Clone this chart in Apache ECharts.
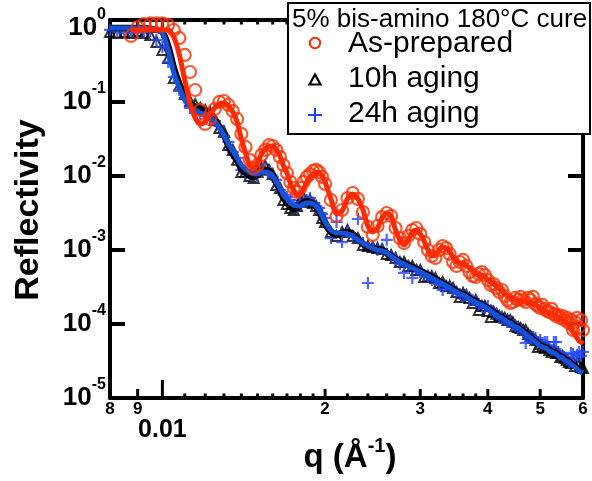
<!DOCTYPE html>
<html><head><meta charset="utf-8">
<script src="https://cdn.jsdelivr.net/npm/echarts@6/dist/echarts.min.js"></script>
<style>html,body{margin:0;padding:0;background:#fff;} #c{width:592px;height:481px;}</style>
</head><body><div id="c"></div>
<script>
// scattering vector q (1/Angstrom)
const q = [0.008,0.00825,0.0085,0.00875,0.009,0.00925,0.0095,0.00975,0.01,0.01025,
0.0105,0.01075,0.011,0.01125,0.0115,0.01175,0.012,0.01225,0.0125,0.01275,
0.013,0.01325,0.0135,0.01375,0.014,0.01425,0.0145,0.01475,0.015,0.01525,
0.0155,0.01575,0.016,0.01625,0.0165,0.01675,0.017,0.01725,0.0175,0.01775,
0.018,0.01825,0.0185,0.01875,0.019,0.01925,0.0195,0.01975,0.02,
0.0205,0.021,0.0215,0.022,0.0225,0.023,0.0235,0.024,0.0245,0.025,0.0255,
0.026,0.0265,0.027,0.0275,0.028,0.0285,0.029,0.0295,0.03,0.0305,
0.031,0.0315,0.032,0.0325,0.033,0.0335,0.034,0.0345,0.035,0.0355,
0.036,0.0365,0.037,0.0375,0.038,0.0385,0.039,0.0395,0.04,0.0405,
0.041,0.0415,0.042,0.0425,0.043,0.0435,0.044,0.0445,0.045,0.0455,
0.046,0.0465,0.047,0.0475,0.048,0.0485,0.049,0.0495,0.05,0.0505,
0.051,0.0515,0.052,0.0525,0.053,0.0535,0.054,0.0545,0.055,0.0555,
0.056,0.0565,0.057,0.0575,0.058,0.0585,0.059,0.0595,0.06];

// As-prepared measured reflectivity (red circles)
const asPrepared = [null,null,null,0.780,1.03,1.13,1.15,1.15,1.15,1.10,
0.940,0.733,0.432,0.254,0.145,7.80e-2,5.04e-2,5.89e-2,8.04e-2,1.00e-1,
0.103,9.11e-2,7.56e-2,5.89e-2,3.70e-2,2.47e-2,1.65e-2,1.28e-2,1.41e-2,1.92e-2,
2.25e-2,2.62e-2,2.54e-2,2.25e-2,1.81e-2,1.41e-2,1.10e-2,8.30e-3,6.88e-3,6.08e-3,
6.88e-3,8.30e-3,9.69e-3,1.06e-2,1.17e-2,1.21e-2,1.13e-2,9.69e-3,7.80e-3,4.74e-3,
2.88e-3,3.47e-3,5.04e-3,5.89e-3,4.89e-3,3.26e-3,2.05e-3,1.60e-3,2.11e-3,2.79e-3,
3.16e-3,2.88e-3,1.98e-3,1.45e-3,1.24e-3,1.55e-3,1.86e-3,1.98e-3,1.65e-3,1.28e-3,
1.00e-3,8.30e-4,7.80e-4,1.00e-3,1.13e-3,1.06e-3,8.83e-4,6.88e-4,6.08e-4,6.88e-4,
7.33e-4,6.08e-4,5.04e-4,4.45e-4,4.32e-4,4.74e-4,5.04e-4,4.59e-4,3.93e-4,3.37e-4,
3.47e-4,3.07e-4,2.71e-4,2.88e-4,2.39e-4,2.11e-4,1.92e-4,1.98e-4,2.25e-4,2.11e-4,
2.32e-4,2.11e-4,1.98e-4,2.25e-4,2.11e-4,2.32e-4,1.86e-4,1.75e-4,1.65e-4,1.81e-4,
1.60e-4,1.50e-4,1.45e-4,1.60e-4,1.37e-4,1.28e-4,1.32e-4,1.21e-4,1.28e-4,1.13e-4,
1.21e-4,1.03e-4,1.13e-4,8.30e-5,1.06e-4,1.21e-4,9.11e-5,1.13e-4,8.30e-5];

// As-prepared fit (red line)
const asPreparedFit = [null,null,null,0.940,0.940,0.940,0.940,0.940,0.940,0.940,
0.756,0.432,0.198,9.69e-2,6.08e-2,5.04e-2,5.37e-2,6.67e-2,8.30e-2,9.40e-2,
9.69e-2,8.83e-2,7.33e-2,5.37e-2,3.16e-2,2.05e-2,1.41e-2,1.24e-2,1.50e-2,1.98e-2,
2.32e-2,2.54e-2,2.54e-2,2.25e-2,1.86e-2,1.37e-2,1.10e-2,8.04e-3,6.47e-3,5.54e-3,
5.71e-3,6.67e-3,8.30e-3,9.69e-3,1.06e-2,1.13e-2,1.10e-2,1.00e-2,8.30e-3,4.89e-3,
3.07e-3,3.37e-3,4.89e-3,5.71e-3,4.89e-3,3.47e-3,2.11e-3,1.75e-3,1.98e-3,2.71e-3,
3.16e-3,2.88e-3,1.86e-3,1.37e-3,1.17e-3,1.37e-3,1.75e-3,1.86e-3,1.65e-3,1.32e-3,
1.00e-3,8.30e-4,8.56e-4,1.00e-3,1.10e-3,1.06e-3,9.40e-4,8.04e-4,6.88e-4,6.67e-4,
6.67e-4,6.27e-4,5.71e-4,5.20e-4,4.74e-4,4.59e-4,4.59e-4,4.32e-4,3.93e-4,3.70e-4,
3.47e-4,3.26e-4,2.97e-4,2.79e-4,2.54e-4,2.39e-4,2.32e-4,2.18e-4,2.11e-4,2.11e-4,
2.05e-4,2.05e-4,1.98e-4,1.98e-4,1.92e-4,1.86e-4,1.81e-4,1.75e-4,1.65e-4,1.60e-4,
1.50e-4,1.45e-4,1.41e-4,1.37e-4,1.32e-4,1.28e-4,1.24e-4,1.21e-4,1.17e-4,1.10e-4,
1.03e-4,9.40e-5,8.56e-5,7.80e-5,7.10e-5,6.47e-5,5.89e-5,5.71e-5,5.37e-5];

// 10h aging measured (black triangles)
const aged10 = [0.883,0.856,0.883,0.856,0.911,0.856,0.804,0.647,0.504,0.393,
0.211,0.165,0.128,0.103,9.40e-2,8.30e-2,7.80e-2,7.33e-2,5.71e-2,4.45e-2,
3.93e-2,2.62e-2,2.25e-2,1.65e-2,1.13e-2,1.13e-2,1.00e-2,9.40e-3,1.13e-2,1.28e-2,
1.37e-2,1.21e-2,1.06e-2,7.56e-3,6.88e-3,4.74e-3,4.19e-3,3.70e-3,3.47e-3,3.93e-3,
4.74e-3,5.04e-3,4.45e-3,4.74e-3,4.32e-3,3.93e-3,3.47e-3,2.71e-3,2.39e-3,1.75e-3,
1.55e-3,1.75e-3,1.86e-3,1.55e-3,1.45e-3,1.17e-3,1.13e-3,1.10e-3,1.06e-3,1.03e-3,
8.83e-4,8.56e-4,7.80e-4,6.88e-4,6.88e-4,6.08e-4,6.08e-4,5.37e-4,5.37e-4,4.32e-4,
4.45e-4,4.45e-4,4.19e-4,3.58e-4,3.70e-4,3.26e-4,3.26e-4,3.07e-4,2.71e-4,2.32e-4,
2.62e-4,2.47e-4,2.25e-4,1.92e-4,2.11e-4,1.55e-4,1.75e-4,1.75e-4,1.50e-4,1.24e-4,
1.45e-4,1.37e-4,1.28e-4,1.24e-4,1.21e-4,1.13e-4,1.13e-4,1.06e-4,9.40e-5,9.11e-5,
8.83e-5,8.30e-5,8.30e-5,7.33e-5,6.88e-5,6.47e-5,6.08e-5,4.89e-5,5.37e-5,5.04e-5,
4.74e-5,4.89e-5,4.45e-5,4.19e-5,4.45e-5,4.06e-5,4.06e-5,3.58e-5,3.70e-5,3.47e-5,
3.26e-5,3.07e-5,2.97e-5,3.07e-5,2.71e-5,2.97e-5,2.97e-5,2.62e-5,2.54e-5];

// 10h aging fit (black line)
const aged10Fit = [1.00,1.00,1.00,1.00,1.00,1.00,0.969,0.940,0.883,0.571,
0.288,0.175,0.121,9.69e-2,8.56e-2,8.04e-2,7.80e-2,7.10e-2,5.89e-2,4.59e-2,
3.58e-2,2.54e-2,1.98e-2,1.60e-2,1.24e-2,1.10e-2,1.00e-2,9.69e-3,1.03e-2,1.17e-2,
1.21e-2,1.17e-2,1.03e-2,8.04e-3,6.47e-3,5.04e-3,4.32e-3,3.81e-3,3.58e-3,3.70e-3,
4.06e-3,4.45e-3,4.59e-3,4.45e-3,4.19e-3,3.81e-3,3.26e-3,2.71e-3,2.25e-3,1.75e-3,
1.60e-3,1.70e-3,1.75e-3,1.65e-3,1.41e-3,1.21e-3,1.10e-3,1.06e-3,1.03e-3,1.00e-3,
9.11e-4,8.30e-4,7.56e-4,7.10e-4,6.67e-4,6.27e-4,5.89e-4,5.54e-4,5.20e-4,4.89e-4,
4.59e-4,4.32e-4,4.06e-4,3.81e-4,3.58e-4,3.37e-4,3.16e-4,2.97e-4,2.79e-4,2.62e-4,
2.54e-4,2.39e-4,2.25e-4,2.11e-4,2.05e-4,1.92e-4,1.86e-4,1.75e-4,1.65e-4,1.55e-4,
1.45e-4,1.37e-4,1.28e-4,1.24e-4,1.17e-4,1.10e-4,1.06e-4,1.00e-4,9.40e-5,9.11e-5,
8.56e-5,8.04e-5,7.56e-5,7.10e-5,6.67e-5,6.27e-5,5.89e-5,5.54e-5,5.20e-5,5.04e-5,
4.89e-5,4.74e-5,4.45e-5,4.32e-5,4.19e-5,4.06e-5,3.81e-5,3.70e-5,3.58e-5,3.37e-5,
3.26e-5,3.16e-5,2.97e-5,2.79e-5,2.71e-5,2.54e-5,2.39e-5,2.32e-5,2.25e-5];

// 24h aging measured (blue pluses)
const aged24 = [0.940,0.911,0.856,0.911,0.856,0.883,0.911,0.688,0.554,0.347,
0.218,0.145,0.113,8.30e-2,7.33e-2,6.88e-2,6.47e-2,6.08e-2,5.54e-2,4.74e-2,
3.47e-2,2.88e-2,2.11e-2,1.75e-2,1.21e-2,1.10e-2,1.03e-2,1.03e-2,1.00e-2,1.21e-2,
1.28e-2,1.13e-2,9.69e-3,8.83e-3,6.47e-3,5.54e-3,5.20e-3,4.74e-3,4.06e-3,3.81e-3,
4.19e-3,4.45e-3,4.74e-3,5.04e-3,4.32e-3,3.93e-3,3.70e-3,3.07e-3,2.71e-3,1.45e-3,
2.39e-3,1.28e-3,1.75e-3,1.55e-3,2.62e-3,1.24e-3,3.58e-4,1.13e-3,1.00e-3,1.03e-3,
1.37e-3,8.30e-4,7.80e-4,6.47e-4,4.89e-4,6.08e-4,4.19e-4,5.37e-4,5.04e-4,4.59e-4,
4.45e-4,3.93e-4,3.93e-4,3.47e-4,2.88e-4,3.26e-4,3.07e-4,2.88e-4,2.71e-4,2.54e-4,
2.39e-4,2.47e-4,2.11e-4,2.11e-4,1.98e-4,1.86e-4,1.75e-4,1.65e-4,1.75e-4,1.55e-4,
1.45e-4,1.37e-4,1.24e-4,1.21e-4,1.13e-4,1.06e-4,1.06e-4,9.69e-5,9.40e-5,8.83e-5,
8.30e-5,7.80e-5,5.54e-5,6.88e-5,6.47e-5,6.67e-5,6.47e-5,5.71e-5,6.08e-5,5.54e-5,
5.71e-5,5.71e-5,4.74e-5,4.45e-5,5.71e-5,5.71e-5,4.19e-5,3.93e-5,3.70e-5,3.47e-5,
3.26e-5,3.07e-5,4.06e-5,3.93e-5,3.26e-5,3.81e-5,4.19e-5,3.70e-5,4.19e-5];

// 24h aging fit (blue line)
const aged24Fit = [1.00,1.00,1.00,1.00,1.00,1.00,0.969,0.940,0.856,0.504,
0.247,0.155,0.106,8.83e-2,7.80e-2,7.10e-2,6.88e-2,6.27e-2,5.37e-2,4.45e-2,
3.58e-2,2.71e-2,2.18e-2,1.75e-2,1.41e-2,1.24e-2,1.13e-2,1.06e-2,1.06e-2,1.13e-2,
1.13e-2,1.10e-2,1.00e-2,8.30e-3,6.88e-3,5.54e-3,4.89e-3,4.32e-3,4.06e-3,3.93e-3,
3.93e-3,4.19e-3,4.32e-3,4.32e-3,4.19e-3,3.93e-3,3.47e-3,2.88e-3,2.39e-3,1.86e-3,
1.70e-3,1.70e-3,1.65e-3,1.55e-3,1.37e-3,1.24e-3,1.13e-3,1.06e-3,1.00e-3,9.69e-4,
9.11e-4,8.30e-4,7.56e-4,6.88e-4,6.47e-4,6.08e-4,5.71e-4,5.37e-4,5.04e-4,4.74e-4,
4.45e-4,4.19e-4,3.93e-4,3.70e-4,3.47e-4,3.26e-4,3.07e-4,2.88e-4,2.71e-4,2.54e-4,
2.47e-4,2.32e-4,2.18e-4,2.05e-4,1.98e-4,1.86e-4,1.81e-4,1.70e-4,1.60e-4,1.50e-4,
1.41e-4,1.32e-4,1.24e-4,1.21e-4,1.13e-4,1.06e-4,1.03e-4,9.69e-5,9.11e-5,8.83e-5,
8.30e-5,7.80e-5,7.33e-5,6.88e-5,6.47e-5,6.08e-5,5.71e-5,5.37e-5,5.04e-5,4.89e-5,
4.74e-5,4.59e-5,4.32e-5,4.19e-5,4.06e-5,3.93e-5,3.70e-5,3.58e-5,3.47e-5,3.26e-5,
3.16e-5,3.07e-5,2.88e-5,2.71e-5,2.62e-5,2.47e-5,2.32e-5,2.25e-5,2.18e-5];

// x-axis tick values and their labels
const xTickQ = [0.008,0.009,0.01,0.011,0.012,0.013,0.014,0.015,0.016,0.017,0.018,0.019,
0.02,0.022,0.024,0.026,0.028,0.03,0.032,0.034,0.036,0.038,0.04,0.05,0.06];
const xTickText = ['8','9','0.01','','','','','','','','','',
'2','','','','','3','','','','','4','5','6'];

const legendTitle = '5% bis-amino 180°C cure';
const seriesNames = ['As-prepared', '10h aging', '24h aging'];
const xTitle = ['q (Å', '-1', ')'];
const yTitle = 'Reflectivity';

const X_MIN = 0.008, X_MAX = 0.06, Y_MIN = 1e-5, Y_MAX = 1.28;
const FONT = '"Liberation Sans", Arial, Helvetica, sans-serif';
const RED = '#ff3000', RED_LINE = '#ff2a00', BLUE = '#2244ff', BLUE_LINE = '#1652d8';

function pairs(arr) {
  const out = [];
  for (let i = 0; i < q.length; i++) if (arr[i] != null) out.push([q[i], arr[i]]);
  return out;
}

const chart = echarts.init(document.getElementById('c'), null, {renderer: 'canvas'});

function yFmt(v) {
  const l = Math.log10(v), e = Math.round(l);
  if (Math.abs(l - e) > 1e-6) return '';
  return '{b|10}{s|' + e + '}';
}

const yAxisBase = {
  type: 'log', logBase: 10, min: Y_MIN, max: Y_MAX,
  axisLine: {show: true, onZero: false, lineStyle: {color: '#000', width: 4}},
  axisTick: {show: true, inside: true, length: 15, lineStyle: {color: '#000', width: 4}},
  splitLine: {show: false}, minorTick: {show: false}
};
const xAxisBase = {
  type: 'log', logBase: 10, min: X_MIN, max: X_MAX,
  axisLine: {show: true, onZero: false, lineStyle: {color: '#000', width: 4}},
  axisTick: {show: false}, axisLabel: {show: false},
  splitLine: {show: false}, minorTick: {show: false}
};

const option = {
  animation: false,
  backgroundColor: '#fff',
  grid: {left: 110, right: 9, top: 20, bottom: 83, containLabel: false},
  xAxis: [
    Object.assign({}, xAxisBase, {position: 'bottom'}),
    Object.assign({}, xAxisBase, {position: 'top'})
  ],
  yAxis: [
    Object.assign({}, yAxisBase, {
      position: 'left',
      axisLabel: {
        show: true, margin: 4, showMinLabel: true, showMaxLabel: true,
        formatter: yFmt,
        rich: {
          b: {fontSize: 26, fontWeight: 'bold', fontFamily: FONT, color: '#000', lineHeight: 42},
          s: {fontSize: 16, fontWeight: 'bold', fontFamily: FONT, color: '#000', lineHeight: 17, verticalAlign: 'top'}
        }
      }
    }),
    Object.assign({}, yAxisBase, {position: 'right', axisLabel: {show: false}})
  ],
  series: [
    {
      type: 'custom', name: 'xticks', coordinateSystem: 'cartesian2d',
      xAxisIndex: 0, yAxisIndex: 0, silent: true, clip: false, z: 1,
      data: xTickQ.map((v, i) => [v, Y_MIN, i]),
      renderItem: function (params, api) {
        const i = params.dataIndex;
        const lab = xTickText[i];
        const b = api.coord([xTickQ[i], Y_MIN]);
        const t = api.coord([xTickQ[i], Y_MAX]);
        const isDec = lab.indexOf('.') >= 0;
        const len = isDec ? 18 : (lab ? 9 : 4.5);
        const ch = [
          {type: 'line', shape: {x1: b[0], y1: b[1], x2: b[0], y2: b[1] - len}, style: {stroke: '#000', lineWidth: 3}},
          {type: 'line', shape: {x1: t[0], y1: t[1], x2: t[0], y2: t[1] + len}, style: {stroke: '#000', lineWidth: 3}}
        ];
        if (lab) {
          ch.push({type: 'text', style: {
            text: lab, x: b[0], y: b[1] + (isDec ? 32 : 11),
            textAlign: 'center', textVerticalAlign: 'middle', align: 'center', verticalAlign: 'middle',
            fontSize: isDec ? 25 : 17, fontWeight: 'bold', fontFamily: FONT, fill: '#000'
          }});
        }
        return {type: 'group', children: ch};
      }
    },
    {
      type: 'scatter', name: seriesNames[1], data: pairs(aged10), z: 2, clip: false,
      symbol: 'triangle', symbolSize: 10,
      itemStyle: {color: 'rgba(0,0,0,0)', borderColor: '#000', borderWidth: 2}
    },
    {
      type: 'scatter', name: seriesNames[2], data: pairs(aged24), z: 3, clip: false,
      symbol: 'path://M0,5L10,5M5,0L5,10', symbolSize: 12,
      itemStyle: {color: 'rgba(0,0,0,0)', borderColor: BLUE, borderWidth: 2.2}
    },
    {
      type: 'line', name: seriesNames[1] + ' fit', data: pairs(aged10Fit), z: 4,
      showSymbol: false, symbol: 'none', smooth: 0.25,
      lineStyle: {color: '#000', width: 6.5}
    },
    {
      type: 'line', name: seriesNames[2] + ' fit', data: pairs(aged24Fit), z: 5,
      showSymbol: false, symbol: 'none', smooth: 0.25,
      lineStyle: {color: BLUE_LINE, width: 5}
    },
    {
      type: 'scatter', name: seriesNames[0], data: pairs(asPrepared), z: 6, clip: false,
      symbol: 'circle', symbolSize: 12,
      itemStyle: {color: 'rgba(0,0,0,0)', borderColor: RED, borderWidth: 2.2}
    },
    {
      type: 'line', name: seriesNames[0] + ' fit', data: pairs(asPreparedFit), z: 7,
      showSymbol: false, symbol: 'none', smooth: 0.25,
      lineStyle: {color: RED_LINE, width: 5}
    }
  ],
  graphic: [
    {type: 'text', z: 100, x: 29, y: 210, rotation: Math.PI / 2,
      style: {text: yTitle, font: 'bold 34px ' + FONT, fill: '#000',
        textAlign: 'center', textVerticalAlign: 'middle', align: 'center', verticalAlign: 'middle'}},
    {type: 'text', z: 100, x: 350, y: 458,
      style: {
        text: '{t|' + xTitle[0] + '}{s|' + xTitle[1] + '}{t|' + xTitle[2] + '}',
        textAlign: 'center', textVerticalAlign: 'middle', align: 'center', verticalAlign: 'middle',
        rich: {
          t: {fontSize: 33, fontWeight: 'bold', fontFamily: FONT, fill: '#000', lineHeight: 44},
          s: {fontSize: 20, fontWeight: 'bold', fontFamily: FONT, fill: '#000', lineHeight: 20, verticalAlign: 'top'}
        }
      }},
    {type: 'rect', z: 100, shape: {x: 288, y: 3, width: 302, height: 131},
      style: {fill: '#fff', stroke: '#000', lineWidth: 2}},
    {type: 'text', z: 101, x: 292, y: 20,
      style: {text: legendTitle, font: '26px ' + FONT, fill: '#000',
        textAlign: 'left', textVerticalAlign: 'middle', align: 'left', verticalAlign: 'middle'}},
    {type: 'circle', z: 101, shape: {cx: 315, cy: 43, r: 5.2},
      style: {fill: 'none', stroke: RED, lineWidth: 2}},
    {type: 'polygon', z: 101, shape: {points: [[315, 74.5], [320.5, 84.5], [309.5, 84.5]]},
      style: {fill: 'none', stroke: '#000', lineWidth: 2.2}},
    {type: 'line', z: 101, shape: {x1: 308, y1: 115, x2: 322, y2: 115}, style: {stroke: BLUE, lineWidth: 2}},
    {type: 'line', z: 101, shape: {x1: 315, y1: 108, x2: 315, y2: 122}, style: {stroke: BLUE, lineWidth: 2}},
    {type: 'text', z: 101, x: 348, y: 44,
      style: {text: seriesNames[0], font: '30px ' + FONT, fill: '#000',
        textAlign: 'left', textVerticalAlign: 'middle', align: 'left', verticalAlign: 'middle'}},
    {type: 'text', z: 101, x: 348, y: 79,
      style: {text: seriesNames[1], font: '30px ' + FONT, fill: '#000',
        textAlign: 'left', textVerticalAlign: 'middle', align: 'left', verticalAlign: 'middle'}},
    {type: 'text', z: 101, x: 348, y: 114,
      style: {text: seriesNames[2], font: '30px ' + FONT, fill: '#000',
        textAlign: 'left', textVerticalAlign: 'middle', align: 'left', verticalAlign: 'middle'}}
  ]
};
chart.setOption(option);
</script></body></html>
